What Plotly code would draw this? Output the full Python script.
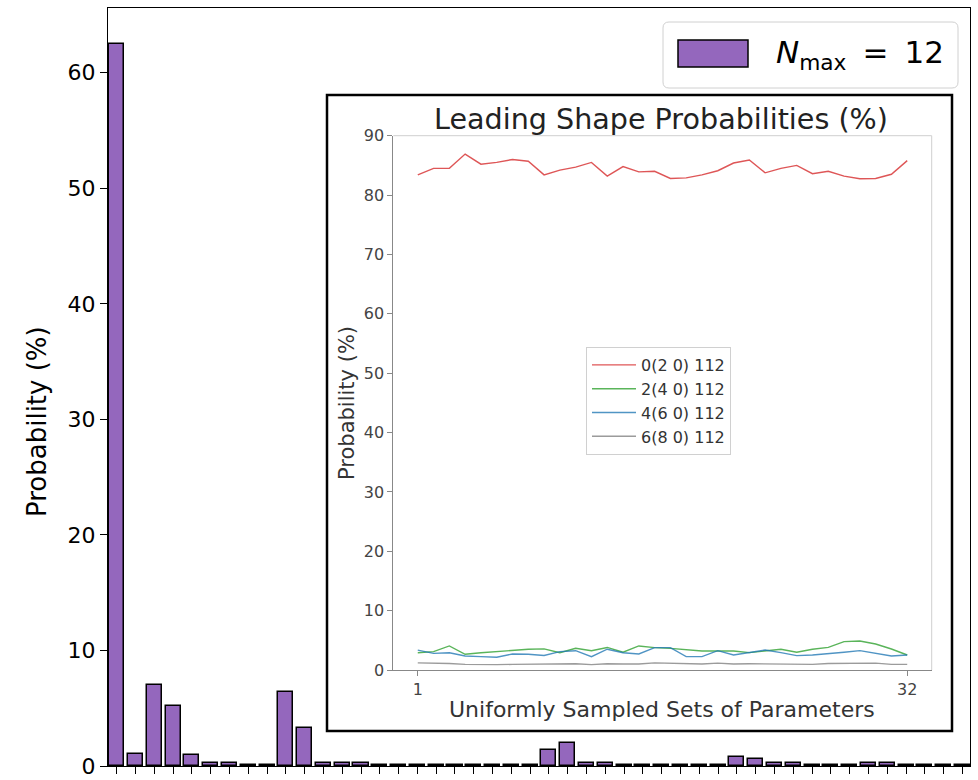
import plotly.graph_objects as go

W, H = 978, 780
FONT = "DejaVu Sans"

# ---- main bar chart: probability of each shape component (N_max = 12) ----
shape_index = list(range(46))
shape_prob = [
    62.5, 1.05, 7.0, 5.2, 0.95, 0.25, 0.25, 0.1, 0.1, 6.4,
    3.25, 0.25, 0.25, 0.25, 0.05, 0.05, 0.05, 0.05, 0.05, 0.05,
    0.05, 0.05, 0.05, 1.42, 1.95, 0.25, 0.25, 0.05, 0.05, 0.05,
    0.05, 0.05, 0.05, 0.78, 0.63, 0.25, 0.25, 0.05, 0.05, 0.05,
    0.25, 0.25, 0.05, 0.05, 0.05, 0.05,
]
main_yticks = [0, 10, 20, 30, 40, 50, 60]

# ---- inset: leading shape probabilities over 32 parameter sets ----
param_set = list(range(1, 33))
prob_020 = [83.4, 84.5, 84.5, 86.9, 85.2, 85.5, 86.0, 85.7, 83.4, 84.2,
            84.7, 85.5, 83.2, 84.8, 83.9, 84.0, 82.8, 82.9, 83.4, 84.1,
            85.4, 85.9, 83.75, 84.5, 85.0, 83.6, 84.0, 83.2, 82.75, 82.8,
            83.5, 85.8]
prob_240 = [2.9, 3.1, 4.05, 2.65, 2.9, 3.1, 3.25, 3.5, 3.55, 2.9,
            3.65, 3.25, 3.8, 3.0, 4.05, 3.77, 3.65, 3.37, 3.2, 3.2,
            3.2, 2.92, 3.26, 3.49, 2.98, 3.49, 3.82, 4.78, 4.89, 4.38,
            3.54, 2.53]
prob_460 = [3.35, 2.8, 2.9, 2.35, 2.25, 2.15, 2.7, 2.65, 2.45, 3.1,
            3.25, 2.25, 3.5, 2.9, 2.7, 3.77, 3.77, 2.25, 2.25, 3.26,
            2.53, 2.92, 3.37, 2.92, 2.42, 2.53, 2.70, 2.98, 3.26, 2.81,
            2.36, 2.53]
prob_680 = [1.2, 1.2, 1.1, 0.95, 0.9, 0.9, 0.95, 0.95, 1.0, 1.0,
            1.05, 0.9, 1.05, 1.0, 1.0, 1.2, 1.15, 1.0, 1.0, 1.15,
            1.0, 1.05, 1.05, 1.05, 1.0, 0.95, 1.1, 1.15, 1.2, 1.15,
            0.95, 0.95]
inset_series = [
    ("0(2 0) 112", prob_020, "#d62728"),
    ("2(4 0) 112", prob_240, "#2ca02c"),
    ("4(6 0) 112", prob_460, "#1f77b4"),
    ("6(8 0) 112", prob_680, "#7f7f7f"),
]
inset_yticks = [0, 10, 20, 30, 40, 50, 60, 70, 80, 90]
inset_xticks = [1, 32]


def px(x):
    return x / W


def py(y):
    return 1 - y / H


fig = go.Figure()

fig.add_trace(go.Bar(
    x=shape_index, y=shape_prob, width=0.8,
    marker=dict(color="#9467bd", line=dict(color="black", width=1.5)),
    showlegend=False, xaxis="x", yaxis="y",
))

for name, vals, color in inset_series:
    fig.add_trace(go.Scatter(
        x=param_set, y=vals, mode="lines", name=name,
        line=dict(color=color, width=1.4), opacity=0.78,
        xaxis="x2", yaxis="y2", legend="legend",
    ))

fig.update_layout(
    width=W, height=H, autosize=False,
    margin=dict(l=0, r=0, t=0, b=0, pad=0),
    paper_bgcolor="white", plot_bgcolor="rgba(0,0,0,0)",
    font=dict(family=FONT, color="black"),
    bargap=0,
    xaxis=dict(
        domain=[px(108), px(970)], range=[-0.46, 45.4], automargin=False,
        tickmode="array", tickvals=shape_index, showticklabels=False,
        ticks="outside", ticklen=7, tickwidth=1.2, tickcolor="black",
        showline=True, linecolor="black", linewidth=1.2, mirror=True,
        showgrid=False, zeroline=False, anchor="y",
    ),
    yaxis=dict(
        domain=[py(766), py(8)], range=[0, 65.6], automargin=False,
        tickmode="array", tickvals=main_yticks,
        ticks="outside", ticklen=7, tickwidth=1.2, tickcolor="black",
        tickfont=dict(size=22, family=FONT, color="black"),
        showline=True, linecolor="black", linewidth=1.2, mirror=True,
        showgrid=False, zeroline=False, anchor="x",
    ),
    xaxis2=dict(
        domain=[px(393.3), px(931.7)], range=[-0.55, 33.55], automargin=False,
        tickmode="array", tickvals=inset_xticks,
        ticks="outside", ticklen=5, tickwidth=1, tickcolor="#888",
        tickfont=dict(size=16, family=FONT, color="#444"),
        showline=True, linecolor="#888", linewidth=1,
        showgrid=False, zeroline=False, anchor="y2",
    ),
    yaxis2=dict(
        domain=[py(670), py(135.7)], range=[0, 90], automargin=False,
        tickmode="array", tickvals=inset_yticks,
        ticks="outside", ticklen=5, tickwidth=1, tickcolor="#888",
        tickfont=dict(size=16, family=FONT, color="#444"),
        showline=True, linecolor="#888", linewidth=1,
        showgrid=False, zeroline=False, anchor="x2",
    ),
    legend=dict(
        x=px(586), y=py(347), xanchor="left", yanchor="top",
        bgcolor="white", bordercolor="#d0d0d0", borderwidth=1,
        font=dict(size=16, family=FONT, color="#333"),
        tracegroupgap=0, itemwidth=44,
    ),
)

shapes = [
    # inset frame
    dict(type="rect", xref="paper", yref="paper",
         x0=px(327), x1=px(952), y0=py(731), y1=py(95),
         line=dict(color="black", width=2.5), fillcolor="white", layer="below"),
    # light top / right spines of the inset axes
    dict(type="line", xref="paper", yref="paper",
         x0=px(393.3), x1=px(931.7), y0=py(135.7), y1=py(135.7),
         line=dict(color="#cfcfcf", width=1), layer="below"),
    dict(type="line", xref="paper", yref="paper",
         x0=px(931.7), x1=px(931.7), y0=py(670), y1=py(135.7),
         line=dict(color="#cfcfcf", width=1), layer="below"),
]

# legend box for the bar series
lx0, lx1, ly0, ly1, r = 663, 958, 22, 88, 6
path = (f"M {px(lx0 + r)},{py(ly0)} L {px(lx1 - r)},{py(ly0)} "
        f"Q {px(lx1)},{py(ly0)} {px(lx1)},{py(ly0 + r)} "
        f"L {px(lx1)},{py(ly1 - r)} Q {px(lx1)},{py(ly1)} {px(lx1 - r)},{py(ly1)} "
        f"L {px(lx0 + r)},{py(ly1)} Q {px(lx0)},{py(ly1)} {px(lx0)},{py(ly1 - r)} "
        f"L {px(lx0)},{py(ly0 + r)} Q {px(lx0)},{py(ly0)} {px(lx0 + r)},{py(ly0)} Z")
shapes.append(dict(type="path", xref="paper", yref="paper", path=path,
                   line=dict(color="#d0d0d0", width=1), fillcolor="white",
                   layer="above"))
shapes.append(dict(type="rect", xref="paper", yref="paper",
                   x0=px(678), x1=px(748), y0=py(67), y1=py(40),
                   line=dict(color="black", width=1.5), fillcolor="#9467bd",
                   layer="above"))
fig.update_layout(shapes=shapes)

annotations = [
    dict(text="Probability (%)", x=px(37), y=py(422), xref="paper", yref="paper",
         textangle=-90, showarrow=False, xanchor="center", yanchor="middle",
         font=dict(size=26, family=FONT, color="black")),
    dict(text="<i>N</i><sub>max</sub>\u2009 = \u200912", x=px(774), y=py(55),
         xref="paper", yref="paper", showarrow=False,
         xanchor="left", yanchor="middle",
         font=dict(size=31, family=FONT, color="black")),
    dict(text="Leading Shape Probabilities (%)", x=px(661), y=py(119),
         xref="paper", yref="paper", showarrow=False,
         xanchor="center", yanchor="middle",
         font=dict(size=28.6, family=FONT, color="#222")),
    dict(text="Uniformly Sampled Sets of Parameters", x=px(662), y=py(709),
         xref="paper", yref="paper", showarrow=False,
         xanchor="center", yanchor="middle",
         font=dict(size=22, family=FONT, color="#333")),
    dict(text="Probability (%)", x=px(347), y=py(403), xref="paper", yref="paper",
         textangle=-90, showarrow=False, xanchor="center", yanchor="middle",
         font=dict(size=21, family=FONT, color="#333")),
]
fig.update_layout(annotations=annotations)

fig.write_html("out.html")
